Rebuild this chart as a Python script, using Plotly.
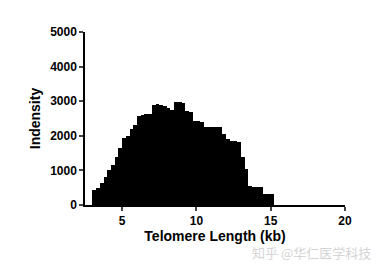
import plotly.graph_objects as go

# Histogram bins (kb) - left edges, width 0.25 kb
bin_width = 0.25
bin_left = [3.0 + i * bin_width for i in range(49)]
counts = [430, 480, 640, 800, 1000, 1150, 1400, 1650, 1950, 2000,
          2200, 2300, 2580, 2600, 2620, 2620, 2900, 2920, 2900, 2850,
          2800, 2760, 2980, 2980, 2950, 2730, 2700, 2420, 2420, 2400,
          2260, 2260, 2260, 2250, 2250, 2050, 1900, 1860, 1860, 1830,
          1400, 1050, 550, 520, 520, 520, 320, 320, 320]
bin_centers = [b + bin_width / 2 for b in bin_left]

x_ticks = [5, 10, 15, 20]
y_ticks = [0, 1000, 2000, 3000, 4000, 5000]

fig = go.Figure()
fig.add_trace(go.Bar(x=bin_centers, y=counts, width=bin_width,
                     marker=dict(color="black", line=dict(width=0)),
                     showlegend=False))

font_fam = "Liberation Sans, Arial, sans-serif"
fig.update_layout(
    width=384, height=264,
    margin=dict(l=85, r=39, t=32, b=59),
    paper_bgcolor="white", plot_bgcolor="white",
    bargap=0,
    font=dict(family=font_fam, color="black"),
    xaxis=dict(range=[2.5, 20], tickvals=x_ticks, ticks="outside", ticklen=4,
               tickwidth=1.5, showline=True, linewidth=1.5, linecolor="black",
               showgrid=False, zeroline=False,
               tickfont=dict(size=12, family=font_fam, weight="bold"),
               title=dict(text="<b>Telomere Length (kb)</b>", font=dict(size=14), standoff=4)),
    yaxis=dict(range=[0, 5000], tickvals=y_ticks, ticks="outside", ticklen=4,
               tickwidth=1.5, showline=True, linewidth=1.5, linecolor="black",
               showgrid=False, zeroline=False,
               tickfont=dict(size=12, family=font_fam, weight="bold"),
               title=dict(text="<b>Indensity</b>", font=dict(size=14), standoff=6)),
)
fig.add_annotation(text="知乎 @华仁医学科技", xref="paper", yref="paper",
                   x=1.108, y=-0.275, xanchor="right", yanchor="middle",
                   showarrow=False,
                   font=dict(family="Noto Sans CJK SC", size=13, color="#d4d4d4"))
fig.write_html("out.html")
